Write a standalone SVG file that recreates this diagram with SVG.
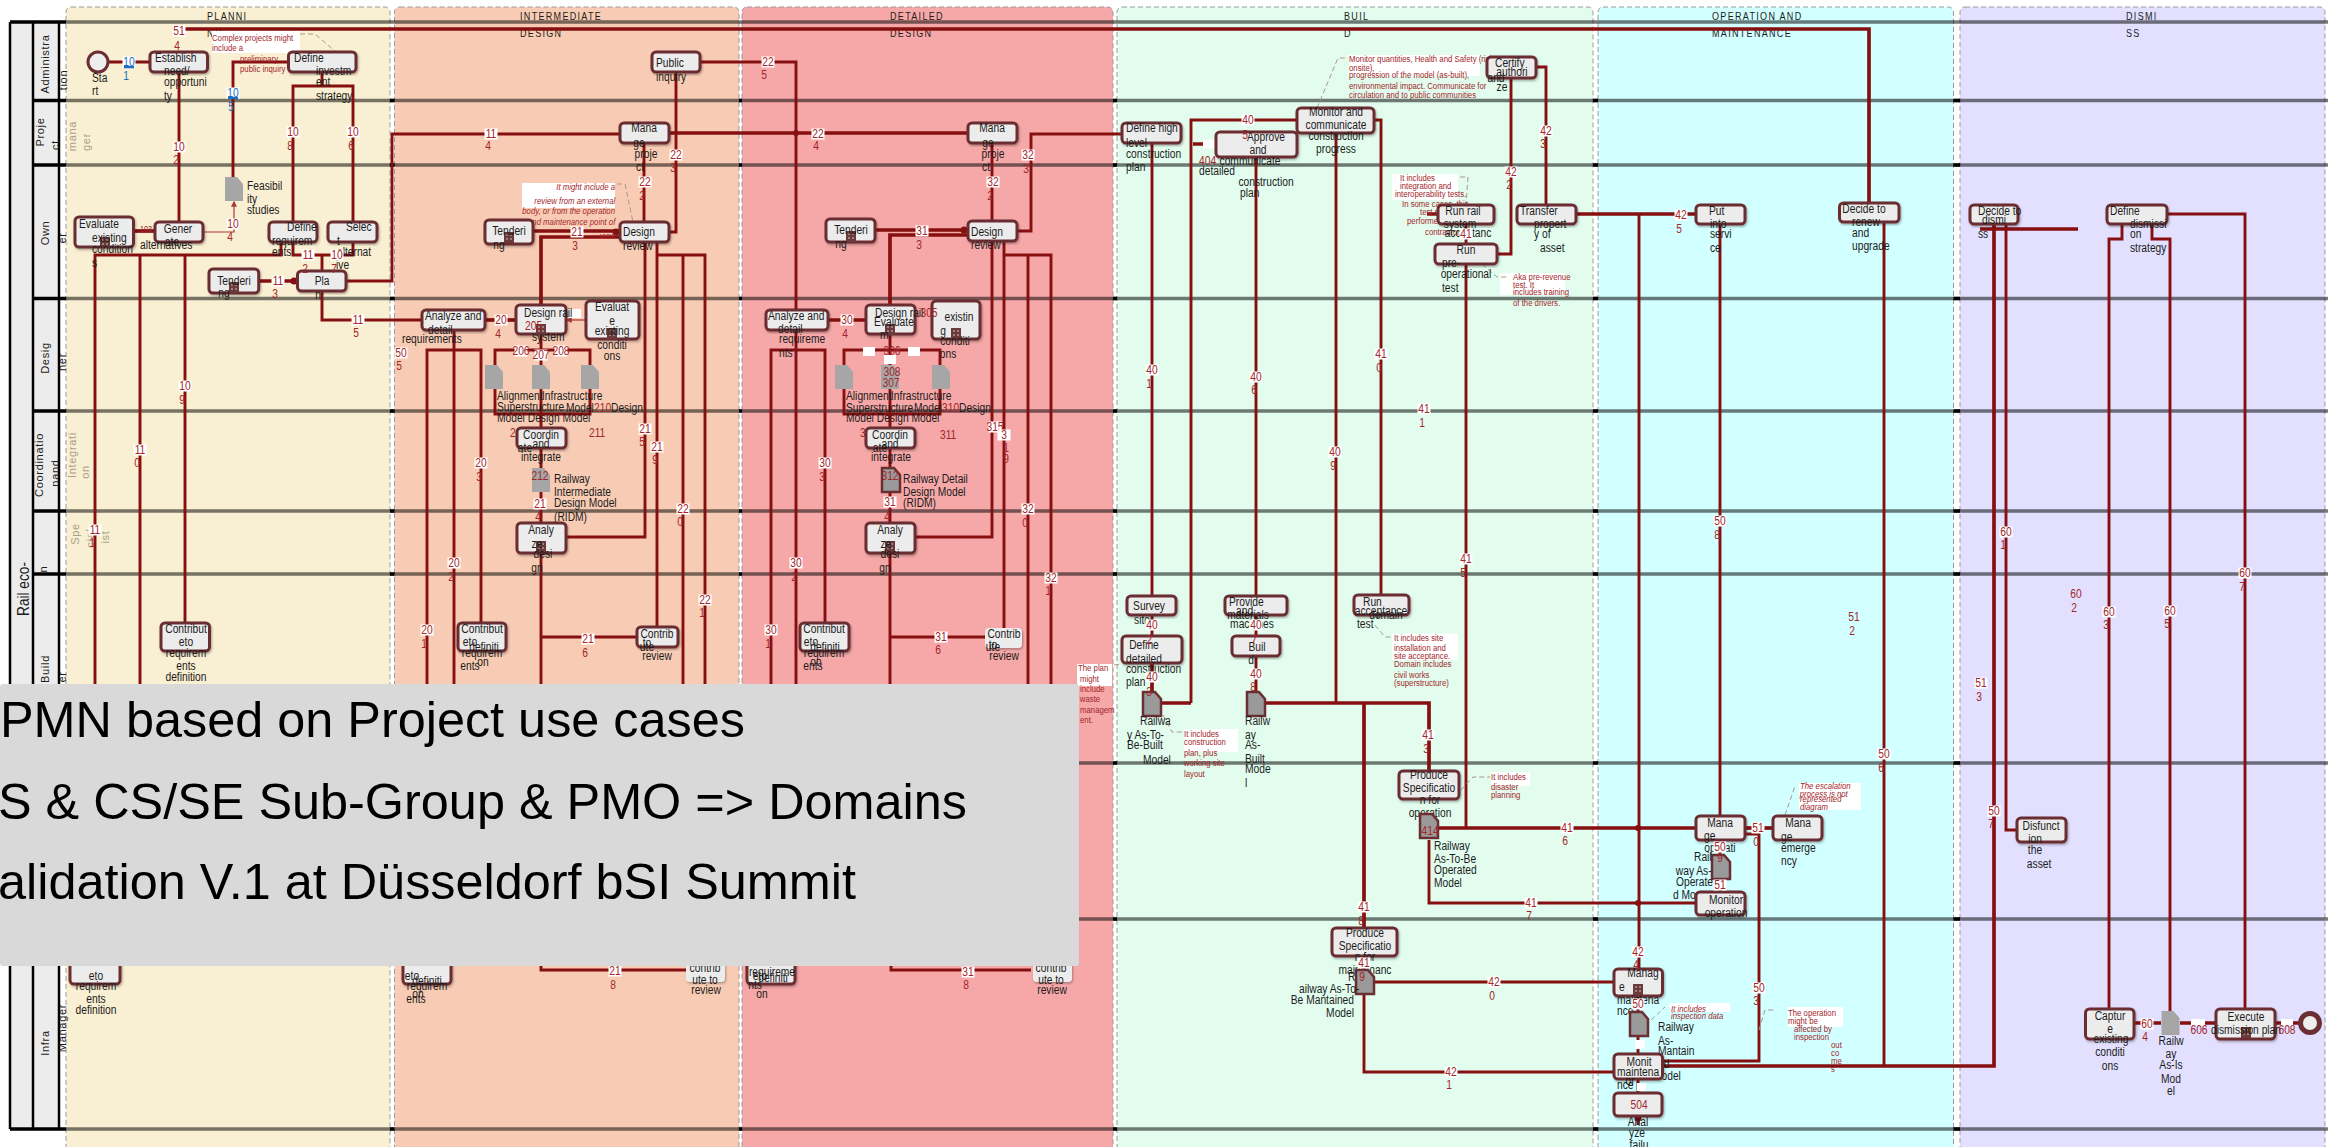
<svg xmlns="http://www.w3.org/2000/svg" width="2328" height="1147" viewBox="0 0 2328 1147">
<style>
text{font-family:"Liberation Sans",Arial,sans-serif;font-size:12.5px;fill:#1c1c1c;dominant-baseline:central}
text:not(.r):not(.big){transform-box:fill-box;transform-origin:0 50%;transform:scaleX(.82)}
text.c{text-anchor:middle;transform-origin:50% 50%!important}
text.e{text-anchor:end;transform-origin:100% 50%!important}
.l{fill:#a3262b}.bl{fill:#1a6fc4}
.nt{font-size:9.5px;fill:#a3262b}.i{font-style:italic}
.ti{font-size:11px;letter-spacing:1.6px}
.r{font-size:11px;letter-spacing:.7px;text-anchor:middle}
.g{fill:#a8a288}
.big{font-size:50.4px;fill:#000;text-anchor:end}
.z{stroke:#9a9a9a;stroke-width:1;stroke-dasharray:5 3}
.ln{stroke:#000;stroke-opacity:.52;stroke-width:3.5}
.bk{stroke:#000;stroke-width:3.5}
.n rect{fill:#ececec;stroke:#6b2f33;stroke-width:3;filter:url(#s)}
.q rect{fill:#ececec;stroke:none;filter:url(#s)}
#connectors path{fill:none;stroke:#860f10;stroke-width:2.9}
#connectors path.h{stroke-width:3.7}
#connectors path.t{stroke:#a8383a;stroke-width:1.2}
.d{fill:none;stroke:#a98;stroke-width:1;stroke-dasharray:5 3}
.w{fill:#fff}
.doc{fill:#a6a6a6}.dd{fill:#9a9a9a;stroke:#6b2f33;stroke-width:2.5}
</style>
<defs>
<filter id="s" x="-10%" y="-10%" width="125%" height="130%"><feDropShadow dx="1" dy="1.5" stdDeviation="1" flood-color="#000" flood-opacity=".3"/></filter>
<rect id="b" x="-6.5" y="-5.5" width="13" height="11" fill="#fff"/>
<path id="p" d="M0 0H12L18 7V24H0Z"/>
<g id="m"><rect x="-5" y="-5" width="10" height="11" fill="#6b3a3a"/><circle cx="-2" cy="-2" r=".8" fill="#ddd"/><circle cx="2" cy="-2" r=".8" fill="#ddd"/><circle cx="-2" cy="2" r=".8" fill="#ddd"/><circle cx="2" cy="2" r=".8" fill="#ddd"/></g>
<marker id="a" markerWidth="5" markerHeight="5" refX="4" refY="2.5" orient="auto"><path d="M0 0L5 2.5L0 5Z" fill="#a8383a"/></marker>
</defs>
<rect width="2328" height="1147" fill="#fff"/>
<g id="zones">
<rect class="z" x="66" y="7" width="324" height="1145" rx="5" fill="#f9efd2"/>
<rect class="z" x="394.5" y="7" width="344.5" height="1145" rx="5" fill="#f8ccb4"/>
<rect class="z" x="742" y="7" width="371" height="1145" rx="5" fill="#f6a8a8"/>
<rect class="z" x="1117" y="7" width="476" height="1145" rx="5" fill="#e2fdee"/>
<rect class="z" x="1598" y="7" width="355.500" height="1145" rx="5" fill="#d2ffff"/>
<rect class="z" x="1960" y="7" width="365" height="1145" rx="5" fill="#e2e0fe"/>
</g>
<g id="header">
<rect x="10" y="22" width="49" height="1107" fill="#ececec"/>
<path d="M10 22V1129M33 22V1129M59 22V1129" stroke="#000" stroke-width="2.5" fill="none"/>
<text class="r" style="font-size:17px;letter-spacing:0" textLength="54" lengthAdjust="spacingAndGlyphs" transform="rotate(-90 23 589)" x="23" y="589">Rail eco-</text>
<text class="r" transform="rotate(-90 45 64)" x="45" y="64">Administra</text><text class="r" transform="rotate(-90 63 80)" x="63" y="80">tion</text>
<text class="r" transform="rotate(-90 40 132)" x="40" y="132">Proje</text><text class="r" transform="rotate(-90 55 145)" x="55" y="145">ct</text>
<text class="r g" transform="rotate(-90 72 136)" x="72" y="136">mana</text><text class="r g" transform="rotate(-90 86 142)" x="86" y="142">ger</text>
<text class="r" transform="rotate(-90 45 233)" x="45" y="233">Own</text><text class="r" transform="rotate(-90 62 238)" x="62" y="238">er</text>
<text class="r" transform="rotate(-90 45 358)" x="45" y="358">Desig</text><text class="r" transform="rotate(-90 62 362)" x="62" y="362">ner</text>
<text class="r" transform="rotate(-90 39 465)" x="39" y="465">Coordinatio</text><text class="r" transform="rotate(-90 55 473)" x="55" y="473">nand</text>
<text class="r g" transform="rotate(-90 72 455)" x="72" y="455">Integrati</text><text class="r g" transform="rotate(-90 85 472)" x="85" y="472">on</text>
<text class="r g" transform="rotate(-90 75 534)" x="75" y="534">Spe</text><text class="r g" transform="rotate(-90 90 538)" x="90" y="538">cial</text><text class="r g" transform="rotate(-90 105 537)" x="105" y="537">ist</text>
<text class="r" transform="rotate(-90 43 569)" x="43" y="569">n</text>
<text class="r" transform="rotate(-90 45 669)" x="45" y="669">Build</text><text class="r" transform="rotate(-90 62 677)" x="62" y="677">er</text>
<text class="r" transform="rotate(-90 45 1043)" x="45" y="1043">Infra</text><text class="r" transform="rotate(-90 62 1028)" x="62" y="1028">Manager</text>
</g>
<g id="lanes">
<path class="ln" d="M66 22H2328M66 100.500H2328M66 165H2328M66 298.500H2328M66 411H2328M66 511H2328M66 574H2328M66 763H2328M66 919H2328M66 1129H2328"/>
<path class="bk" d="M10 22H66M33 100.500H66M33 165H66M33 298.500H66M33 411H66M33 511H66M33 574H66M33 763H66M33 919H66M10 1129H66"/>
<path class="bk" d="M390 100.500h4.500M739 100.500h3M1113 100.500h4M1593 100.500h5M1953.500 100.500h6.500M390 165h4.500M739 165h3M1113 165h4M1593 165h5M1953.500 165h6.500M390 298.500h4.500M739 298.500h3M1113 298.500h4M1593 298.500h5M1953.500 298.500h6.500M390 411h4.500M739 411h3M1113 411h4M1593 411h5M1953.500 411h6.500M390 511h4.500M739 511h3M1113 511h4M1593 511h5M1953.500 511h6.500M390 574h4.500M739 574h3M1113 574h4M1593 574h5M1953.500 574h6.500M1113 763h4M1593 763h5M1953.500 763h6.500M1113 919h4M1593 919h5M1953.500 919h6.500M390 1129h4.500M739 1129h3M1113 1129h4M1593 1129h5M1953.500 1129h6.500"/>
</g>
<g id="titles">
<text class="ti" x="207" y="16">PLANNI</text><text class="ti" x="207" y="33">NG</text>
<text class="ti" x="520" y="16">INTERMEDIATE</text><text class="ti" x="520" y="33">DESIGN</text>
<text class="ti" x="890" y="16">DETAILED</text><text class="ti" x="890" y="33">DESIGN</text>
<text class="ti" x="1344" y="16">BUIL</text><text class="ti" x="1344" y="33">D</text>
<text class="ti" x="1712" y="16">OPERATION AND</text><text class="ti" x="1712" y="33">MAINTENANCE</text>
<text class="ti" x="2126" y="16">DISMI</text><text class="ti" x="2126" y="33">SS</text>
</g>
<g id="connectors">
<path d="M108 62H150M179 52V222"/>
<path class="h" d="M184 29H1869V203"/>
<path d="M288 62H233V177M322 72V86M293 221V86H353V221M293 242V255H322V270M353 242V255H322"/>
<path class="h" d="M133 231H155"/>
<path class="t" marker-end="url(#a)" d="M203 232H234V202"/>
<path d="M95 700V255H281V242M140 255V700M185 255V623"/>
<path class="h" d="M258 281H297"/>
<path d="M346 281H392V134H619M322 291V320H422"/>
<path d="M700 62H796V310M676 72V232H669"/>
<path class="h" d="M669 133H967"/>
<path d="M644 143V222"/>
<path class="h" d="M533 231H620M541 305V237H620"/>
<path d="M657 242V627M657 255H705V700M683 255V700M645 242V537H566"/>
<path class="h" d="M485 320H516"/>
<path class="t" marker-end="url(#a)" d="M586 320H567"/>
<path d="M454 330V700M427 700V350H481V623"/>
<path d="M541 334V428M495 365V350H590V365M495 389V414H590V389M541 448V468M541 492V523"/>
<path d="M541 553V700M541 637H636M541 950V970H686"/>
<path d="M1017 231H1031V134H1121M992 143V221"/>
<path class="h" d="M875 230H968M890 305V235H968"/>
<path d="M1004 241V628M1004 255H1051V700M1028 255V700M992 241V537H915"/>
<path class="h" d="M828 320H866"/>
<path d="M825 623V350H771V700M796 330V700"/>
<path d="M890 334V428M844 365V350H940V365M844 389V414H940V389M890 448V468M890 492V523M890 553V700M890 637H985M891 950V970H1031"/>
<path d="M1152 143V596M1152 615V636"/>
<path class="h" d="M1152 663V692M1161 703H1191"/>
<path d="M1191 703V120H1297M1336 133V703M1374 120H1381V595"/>
<path d="M1256 157V596M1256 615V636M1256 656V692"/>
<path class="h" d="M1266 703H1429V770M1364 703V928"/>
<path d="M1536 67H1546V204M1511 78V254H1497M1466 224V244M1466 264V828"/>
<path class="h" d="M1438 828H1696"/>
<path d="M1429 840V903H1696"/>
<path d="M1364 956V970M1364 994V1072H1614"/>
<path d="M1374 982H1614"/>
<path class="h" d="M1576 214H1696"/>
<path d="M1639 214V969M1720 224V816M1720 840V855M1720 878V892"/>
<path d="M1884 222V1066"/>
<path d="M1638 996V1012M1638 1035V1054M1638 1079V1093M1638 1116V1125"/>
<path class="h" d="M1745 828H1773"/>
<path d="M1745 834H1759V1061H1662"/>
<path class="h" d="M1662 1066H1994V225"/>
<path d="M2006 225V830H2017"/>
<path class="h" d="M1980 229H2078"/>
<path d="M2122 224V239H2109V1009M2152 224V239H2170V1011M2167 214H2245V1009"/>
<path class="h" d="M2134 1023H2161M2180 1023H2216M2275 1023H2300"/>
<path class="h" d="M1193 144H1216M1427 214H1442"/>
<circle cx="1638" cy="828" r="3" fill="#860f10"/><circle cx="1638" cy="903" r="3" fill="#860f10"/><circle cx="796" cy="133" r="3" fill="#860f10"/><circle cx="294" cy="281" r="3.500" fill="#860f10"/><circle cx="616" cy="232" r="3.500" fill="#860f10"/><circle cx="964" cy="230" r="3.500" fill="#860f10"/><circle cx="1638" cy="1118" r="3.500" fill="#860f10"/>
</g>
<g id="notes">
<rect class="w" x="212" y="31" width="88" height="22"/><path class="d" d="M300 34H315L336 52"/>
<rect class="w" x="522" y="183" width="93" height="25"/><path class="d" d="M617 184H625L633 222"/>
<rect class="w" x="1349" y="55" width="131" height="21"/><path class="d" d="M1317 108L1338 58H1348"/>
<rect class="w" x="1392" y="174" width="66" height="26"/><path class="d" d="M1460 177H1468L1466 205"/>
<rect class="w" x="1500" y="273" width="65" height="22"/><path class="d" d="M1482 264L1497 277H1507"/>
<rect class="w" x="1184" y="729" width="54" height="23"/><path class="d" d="M1163 715L1172 732H1182"/>
<rect class="w" x="1077" y="664" width="35" height="22"/><path class="d" d="M1114 665L1122 664"/>
<rect class="w" x="1392" y="633.500" width="66" height="26.500"/><path class="d" d="M1375 625L1385 637H1392"/>
<rect class="w" x="1491" y="772" width="39" height="14"/><path class="d" d="M1461 790L1473 777H1490"/>
<rect class="w" x="1670" y="1003" width="60" height="9"/><path class="d" d="M1651 1020L1665 1007"/>
<rect class="w" x="1799" y="783" width="62" height="27"/><path class="d" d="M1785 815L1795 786"/>
<rect class="w" x="1788" y="1007" width="55" height="20"/><path class="d" d="M1759 1030L1765 1010H1775"/>
<rect class="w" x="567" y="309" width="14" height="9"/>
<rect class="w" x="1203" y="140" width="13" height="8"/>
<rect class="w" x="1635" y="1040" width="10" height="9"/><rect class="w" x="1637" y="1083" width="9" height="8"/>
<rect class="w" x="2191" y="1019" width="14" height="7"/><rect class="w" x="2281" y="1019" width="12" height="7"/>
<text class="nt" x="212" y="38">Complex projects might</text><text class="nt" x="212" y="48">include a</text><text class="nt" x="240" y="59">preliminary</text><text class="nt" x="240" y="69">public inquiry</text>
<text class="nt i e" x="615" y="187">It might include a</text><text class="nt i e" x="615" y="201">review from an  external</text><text class="nt i e" x="615" y="211">body, or from the operation</text><text class="nt i e" x="615" y="222">and maintenance point of</text><text class="nt i e" x="615" y="236">view</text>
<text class="nt" x="1349" y="59">Monitor quantities, Health and Safety (risk</text><text class="nt" x="1349" y="68">onsite),</text><text class="nt" x="1349" y="75">progression of the model (as-built),</text><text class="nt" x="1349" y="86">environmental impact.  Communicate for</text><text class="nt" x="1349" y="95">circulation and to public communities</text>
<text class="nt" x="1400" y="178">It includes</text><text class="nt" x="1400" y="186">integration and</text><text class="nt" x="1395" y="194">interoperability tests.</text><text class="nt" x="1402" y="204">In some cases, this</text><text class="nt" x="1420" y="212">test might be</text><text class="nt" x="1407" y="221">performed by the</text><text class="nt" x="1425" y="232">contractor</text>
<text class="nt" x="1513" y="277">Aka pre-revenue</text><text class="nt" x="1513" y="285">test. It</text><text class="nt" x="1513" y="292">includes training</text><text class="nt" x="1513" y="303">of the  drivers.</text>
<text class="nt" x="1184" y="734">It includes</text><text class="nt" x="1184" y="742">construction</text><text class="nt" x="1184" y="753">plan, plus</text><text class="nt" x="1184" y="763">working site</text><text class="nt" x="1184" y="774">layout</text>
<text class="nt" x="1078" y="668">The    plan</text><text class="nt" x="1080" y="679">might</text><text class="nt" x="1080" y="689">include</text><text class="nt" x="1080" y="699">waste</text><text class="nt" x="1080" y="710">managem</text><text class="nt" x="1080" y="720">ent.</text>
<text class="nt" x="1394" y="638">It includes site</text><text class="nt" x="1394" y="648">installation  and</text><text class="nt" x="1394" y="656">site acceptance.</text><text class="nt" x="1394" y="664">Domain includes</text><text class="nt" x="1394" y="675">civil works</text><text class="nt" x="1394" y="683">(superstructure)</text>
<text class="nt" x="1491" y="777">It includes</text><text class="nt" x="1491" y="787">disaster</text><text class="nt" x="1491" y="795">planning</text>
<text class="nt i" x="1671" y="1009">It includes</text><text class="nt i" x="1671" y="1016">inspection data</text>
<text class="nt i" x="1800" y="786">The escalation</text><text class="nt i" x="1800" y="794">process is not</text><text class="nt i" x="1800" y="799">represented</text><text class="nt i" x="1800" y="807">diagram</text>
<text class="nt" x="1788" y="1013">The operation</text><text class="nt" x="1788" y="1021">might be</text><text class="nt" x="1794" y="1029">affected by</text><text class="nt" x="1794" y="1037">inspection</text><text class="nt" x="1831" y="1045">out</text><text class="nt" x="1831" y="1053">co</text><text class="nt" x="1831" y="1061">me</text><text class="nt" x="1831" y="1069">s</text>
</g>
<g id="n-start"><ellipse cx="98" cy="62" rx="10" ry="10" fill="#eee" stroke="#6b2f33" stroke-width="3"/><text x="92" y="78">Sta</text><text x="92" y="91">rt</text></g>
<g id="n-establish" class="n"><rect x="150" y="52" width="57.500" height="20" rx="4"/><text x="155" y="58">Establish</text><text x="164" y="71">need/</text><text x="164" y="82">opportuni</text><text x="164" y="96">ty</text></g>
<g id="n-strategy" class="n"><rect x="288.500" y="52" width="67.500" height="20" rx="4"/><text x="294" y="58">Define</text><text x="316" y="71">investm</text><text x="316" y="82">ent</text><text x="316" y="96">strategy</text></g>
<g id="d-feasibility"><use href="#p" x="225" y="177" class="doc"/><text x="247" y="186">Feasibil</text><text x="247" y="199">ity</text><text x="247" y="210">studies</text></g>
<g id="n-evaluate" class="n"><rect x="75" y="217" width="58.500" height="30" rx="4"/><use href="#m" x="105" y="242"/><text x="79" y="224">Evaluate</text><text x="92" y="238">existing</text><text x="92" y="249">condition</text><text x="92" y="263">s</text></g>
<g id="n-generate" class="n"><rect x="155" y="222" width="48" height="20" rx="4"/><text class="c" x="178" y="229">Gener</text><text class="c" x="172" y="242">ate</text><text x="140" y="245">alternatives</text></g>
<g id="n-definereq" class="n"><rect x="269" y="222" width="48" height="20" rx="4"/><text x="287" y="227">Define</text><text x="272" y="241">requirem</text><text x="272" y="252">ents</text></g>
<g id="n-select" class="n"><rect x="328" y="222" width="49" height="20" rx="4"/><text x="346" y="227">Selec</text><text x="337" y="241">t</text><text x="337" y="252">alternat</text><text x="336" y="265">ive</text></g>
<g id="n-plan" class="n"><rect x="297.500" y="271" width="48.500" height="20" rx="4"/><text class="c" x="322" y="281">Pla</text><text class="c" x="318" y="295">n</text></g>
<g id="n-tender1" class="n"><rect x="209" y="269" width="49.700" height="24" rx="4"/><use href="#m" x="234" y="287"/><text class="c" x="234" y="281">Tenderi</text><text class="c" x="224" y="293">ng</text></g>
<g id="n-contribute1" class="n"><rect x="161" y="623" width="48.500" height="28" rx="4"/><text class="c" x="186" y="629">Contribut</text><text class="c" x="186" y="642">eto</text><text class="c" x="186" y="653">requirem</text><text class="c" x="186" y="666">ents</text><text class="c" x="186" y="677">definition</text></g>
<g id="n-contribute1b" class="n"><rect x="70" y="950" width="50" height="34" rx="4"/><text class="c" x="96" y="976">eto</text><text class="c" x="96" y="986">requirem</text><text class="c" x="96" y="999">ents</text><text class="c" x="96" y="1010">definition</text></g>
<g id="n-public" class="n"><rect x="652" y="52" width="48" height="20" rx="4"/><text x="656" y="63">Public</text><text x="656" y="77">inquiry</text></g>
<g id="n-manage1" class="n"><rect x="620" y="123" width="49" height="20" rx="4"/><text class="c" x="644" y="128">Mana</text><text class="c" x="639" y="143">ge</text><text class="c" x="646" y="154">proje</text><text class="c" x="640" y="167">ct</text></g>
<g id="n-review1" class="n"><rect x="620" y="222" width="49" height="20" rx="4"/><text x="623" y="232">Design</text><text x="623" y="246">review</text></g>
<g id="n-tender2" class="n"><rect x="485" y="220" width="48" height="24" rx="4"/><use href="#m" x="509" y="237"/><text class="c" x="509" y="231">Tenderi</text><text class="c" x="499" y="245">ng</text></g>
<g id="n-analyze1" class="n"><rect x="422" y="310" width="63" height="20" rx="4"/><text x="425" y="316">Analyze and</text><text x="428" y="330">detail</text><text x="402" y="339">requirements</text></g>
<g id="n-rail1" class="n"><rect x="516" y="305" width="50" height="29" rx="4"/><use href="#m" x="541" y="329"/><text x="524" y="313">Design rail</text><text class="l" x="525" y="326">205</text><text x="532" y="337">system</text></g>
<g id="n-eval1" class="n"><rect x="586" y="301" width="53" height="38" rx="4"/><use href="#m" x="612" y="333"/><text class="c" x="612" y="307">Evaluat</text><text class="c" x="612" y="321">e</text><text class="c" x="612" y="331">existing</text><text class="c" x="612" y="345">conditi</text><text class="c" x="612" y="356">ons</text></g>
<g id="d-align1"><use href="#p" x="485" y="365" class="doc"/><use href="#p" x="532" y="365" class="doc"/><use href="#p" x="581" y="365" class="doc"/><text x="497" y="396">Alignment</text><text x="542" y="396">Infrastructure</text><text x="497" y="407">Superstructure</text><text x="566" y="408">Model</text><text class="l" x="594" y="408">210</text><text x="611" y="408">Design</text><text x="497" y="418">Model Design Model</text><text class="l" x="510" y="433">209</text><text class="l" x="589" y="433">211</text></g>
<g id="n-coord1" class="n"><rect x="517" y="428" width="49" height="20" rx="4"/><text class="c" x="541" y="435">Coordin</text><text class="c" x="541" y="444">and</text><text class="c" x="525" y="448">ate</text><text class="c" x="541" y="457">integrate</text></g>
<g id="d-ridm1"><use href="#p" x="532" y="468" class="doc"/><text class="l c" x="540" y="476">212</text><text x="554" y="479">Railway</text><text x="554" y="492">Intermediate</text><text x="554" y="503">Design Model</text><text x="554" y="517">(RIDM)</text></g>
<g id="n-analyzed1" class="n"><rect x="517" y="523" width="49" height="30" rx="4"/><use href="#m" x="541" y="546"/><text class="c" x="541" y="530">Analy</text><text class="c" x="537" y="544">ze</text><text class="c" x="543" y="554">desi</text><text class="c" x="537" y="568">gn</text></g>
<g id="n-contribute2" class="n"><rect x="458" y="623" width="48" height="28" rx="4"/><text class="c" x="482" y="629">Contribut</text><text class="c" x="470" y="642">eto</text><text class="c" x="484" y="647">definiti</text><text class="c" x="482" y="653">requirem</text><text class="c" x="483" y="662">on</text><text class="c" x="470" y="666">ents</text></g>
<g id="n-contribr1" class="n"><rect x="637" y="627" width="41" height="20" rx="4"/><text class="c" x="657" y="634">Contrib</text><text class="c" x="647" y="643">to</text><text class="c" x="647" y="647">ute</text><text class="c" x="657" y="656">review</text></g>
<g id="n-contribute2b" class="n"><rect x="403" y="950" width="48" height="34" rx="4"/><text class="c" x="412" y="976">eto</text><text class="c" x="427" y="981">definiti</text><text class="c" x="427" y="986">requirem</text><text class="c" x="418" y="994">on</text><text class="c" x="416" y="999">ents</text></g>
<g id="n-contribr1b" class="q"><rect x="686" y="950" width="39" height="32" rx="4"/><text class="c" x="705" y="968">contrib</text><text class="c" x="705" y="980">ute to</text><text class="c" x="706" y="990">review</text></g>
<g id="n-manage2" class="n"><rect x="968" y="123" width="49" height="20" rx="4"/><text class="c" x="992" y="128">Mana</text><text class="c" x="988" y="143">ge</text><text class="c" x="993" y="154">proje</text><text class="c" x="986" y="167">ct</text></g>
<g id="n-review2" class="n"><rect x="968" y="221" width="49" height="20" rx="4"/><text x="971" y="232">Design</text><text x="971" y="245">review</text></g>
<g id="n-tender3" class="n"><rect x="826" y="219" width="49" height="23" rx="4"/><use href="#m" x="851" y="236"/><text class="c" x="851" y="230">Tenderi</text><text class="c" x="841" y="244">ng</text></g>
<g id="n-analyze2" class="n"><rect x="766" y="310" width="62" height="20" rx="4"/><text x="768" y="316">Analyze and</text><text x="778" y="329">detail</text><text x="779" y="339">requireme</text><text x="779" y="353">nts</text></g>
<g id="n-rail2" class="n"><rect x="866" y="305" width="49" height="29" rx="4"/><use href="#m" x="890" y="329"/><text x="875" y="313">Design rail</text><text x="874" y="322">Evaluate</text><text x="880" y="335">m</text></g>
<g id="n-eval2" class="n"><rect x="932" y="301" width="48" height="38" rx="4"/><use href="#m" x="956" y="333"/><text class="c" x="959" y="317">existin</text><text class="c" x="943" y="331">g</text><text class="c" x="955" y="341">conditi</text><text class="c" x="948" y="354">ons</text></g>
<g id="d-align2"><rect class="w" x="863" y="347" width="12" height="9"/><rect class="w" x="908" y="347" width="12" height="9"/><rect class="w" x="884" y="355" width="12" height="9"/><use href="#p" x="835" y="365" class="doc"/><use href="#p" x="881" y="365" class="doc"/><use href="#p" x="932" y="365" class="doc"/><text class="l c" x="892" y="351">306</text><text class="l c" x="892" y="372">308</text><text class="l c" x="891" y="383">307</text><text x="846" y="396">Alignment</text><text x="891" y="396">Infrastructure</text><text x="846" y="408">Superstructure</text><text x="914" y="408">Model</text><text class="l" x="942" y="408">310</text><text x="959" y="408">Design</text><text x="846" y="418">Model Design Model</text><text class="l" x="860" y="433">309</text><text class="l" x="940" y="435">311</text></g>
<g id="n-coord2" class="n"><rect x="866" y="428" width="49" height="20" rx="4"/><text class="c" x="890" y="435">Coordin</text><text class="c" x="890" y="444">and</text><text class="c" x="880" y="448">ate</text><text class="c" x="891" y="457">integrate</text></g>
<g id="d-ridm2"><use href="#p" x="882" y="468" class="dd"/><text class="l c" x="890" y="476">312</text><text x="903" y="479">Railway Detail</text><text x="903" y="492">Design Model</text><text x="903" y="503">(RIDM)</text></g>
<g id="n-analyzed2" class="n"><rect x="866" y="523" width="49" height="30" rx="4"/><use href="#m" x="890" y="546"/><text class="c" x="890" y="530">Analy</text><text class="c" x="886" y="544">ze</text><text class="c" x="890" y="554">desi</text><text class="c" x="885" y="568">gn</text></g>
<g id="n-contribute3" class="n"><rect x="800" y="623" width="49" height="28" rx="4"/><text class="c" x="824" y="629">Contribut</text><text class="c" x="811" y="642">eto</text><text class="c" x="825" y="647">definiti</text><text class="c" x="824" y="653">requirem</text><text class="c" x="816" y="662">on</text><text class="c" x="813" y="666">ents</text></g>
<g id="n-contribr2" class="q"><rect x="985" y="628" width="37" height="20" rx="4"/><text class="c" x="1004" y="634">Contrib</text><text class="c" x="993" y="645">to</text><text class="c" x="993" y="647">ute</text><text class="c" x="1004" y="656">review</text></g>
<g id="n-contribute3b" class="n"><rect x="747" y="950" width="48" height="34" rx="4"/><text class="c" x="772" y="972">requireme</text><text class="c" x="760" y="976">eto</text><text class="c" x="773" y="978">definiti</text><text class="c" x="755" y="985">nts</text><text class="c" x="762" y="994">on</text></g>
<g id="n-contribr2b" class="q"><rect x="1033" y="950" width="39" height="32" rx="4"/><text class="c" x="1051" y="968">contrib</text><text class="c" x="1051" y="980">ute to</text><text class="c" x="1052" y="990">review</text></g>
<g id="n-highlevel" class="n"><rect x="1122" y="123" width="59" height="20" rx="4"/><text x="1126" y="128">Define high</text><text x="1126" y="143">level</text><text x="1126" y="154">construction</text><text x="1126" y="167">plan</text></g>
<g id="n-approve" class="n"><rect x="1216" y="132" width="81" height="25" rx="4"/><text class="c" x="1266" y="137">Approve</text><text class="c" x="1258" y="150">and</text><text class="c" x="1250" y="161">communicate</text><text class="l" x="1199" y="161">404</text><text x="1199" y="171">detailed</text><text class="c" x="1266" y="182">construction</text><text x="1240" y="193">plan</text></g>
<g id="n-monitorc" class="n"><rect x="1297" y="108" width="77" height="25" rx="4"/><text class="c" x="1336" y="112">Monitor and</text><text class="c" x="1336" y="125">communicate</text><text class="c" x="1336" y="136">construction</text><text class="c" x="1336" y="149">progress</text></g>
<g id="n-certify" class="n"><rect x="1487" y="57" width="49" height="21" rx="4"/><text x="1495" y="63">Certify</text><text class="c" x="1512" y="72">authori</text><text class="c" x="1496" y="78">and</text><text class="c" x="1502" y="87">ze</text></g>
<g id="n-runrail" class="n"><rect x="1438" y="205" width="56" height="19" rx="4"/><text class="c" x="1463" y="211">Run rail</text><text class="c" x="1460" y="224">system</text><text class="c" x="1468" y="233">acceptanc</text></g>
<g id="n-runpre" class="n"><rect x="1435" y="244" width="62" height="20" rx="4"/><text class="c" x="1466" y="250">Run</text><text x="1442" y="263">pre-</text><text class="c" x="1466" y="274">operational</text><text x="1442" y="288">test</text></g>
<g id="n-transfer" class="n"><rect x="1517" y="205" width="59" height="19" rx="4"/><text x="1520" y="211">Transfer</text><text x="1534" y="224">propert</text><text x="1534" y="234">y  of</text><text x="1540" y="248">asset</text></g>
<g id="n-put" class="n"><rect x="1696" y="205" width="49" height="19" rx="4"/><text x="1709" y="211">Put</text><text x="1710" y="224">into</text><text x="1710" y="234">servi</text><text x="1710" y="248">ce</text></g>
<g id="n-renew" class="n"><rect x="1839.500" y="203" width="59.500" height="19" rx="4"/><text class="c" x="1864" y="209">Decide to</text><text x="1852" y="222">renew</text><text x="1852" y="233">and</text><text x="1852" y="246">upgrade</text></g>
<g id="n-dismiss" class="n"><rect x="1970" y="205" width="48" height="19" rx="4"/><text x="1978" y="211">Decide to</text><text class="c" x="1994" y="220">dismi</text><text class="c" x="1983" y="234">ss</text></g>
<g id="n-dstrategy" class="n"><rect x="2107" y="205" width="60" height="19" rx="4"/><text x="2110" y="211">Define</text><text x="2130" y="224">dismissi</text><text x="2130" y="234">on</text><text x="2130" y="248">strategy</text></g>
<g id="n-survey" class="n"><rect x="1127" y="596" width="49" height="19" rx="4"/><text class="c" x="1149" y="606">Survey</text><text class="c" x="1142" y="620">site</text></g>
<g id="n-detailedplan" class="n"><rect x="1122" y="636" width="60" height="27" rx="4"/><text class="c" x="1144" y="645">Define</text><text x="1126" y="659">detailed</text><text x="1126" y="669">construction</text><text x="1126" y="682">plan</text></g>
<g id="d-tobe"><use href="#p" x="1143" y="692" class="dd"/><text x="1140" y="721">Railwa</text><text x="1127" y="735">y  As-To-</text><text x="1127" y="745">Be-Built</text><text x="1143" y="760">Model</text></g>
<g id="n-provide" class="n"><rect x="1225" y="596" width="62" height="19" rx="4"/><text x="1229" y="602">Provide</text><text x="1236" y="611">and</text><text class="c" x="1248" y="615">materials</text><text class="c" x="1252" y="624">machines</text></g>
<g id="n-build" class="n"><rect x="1232" y="636" width="48" height="20" rx="4"/><text class="c" x="1257" y="647">Buil</text><text class="c" x="1251" y="660">d</text></g>
<g id="d-asbuilt"><use href="#p" x="1247" y="692" class="dd"/><text x="1245" y="721">Railw</text><text x="1245" y="735">ay</text><text x="1245" y="745">As-</text><text x="1245" y="759">Built</text><text x="1245" y="769">Mode</text><text x="1245" y="783">l</text></g>
<g id="n-runacc" class="n"><rect x="1354" y="595" width="55" height="20" rx="4"/><text x="1363" y="602">Run</text><text class="c" x="1381" y="611">acceptance</text><text class="c" x="1386" y="615">domain</text><text x="1357" y="624">test</text></g>
<g id="n-specop" class="n"><rect x="1399" y="771" width="60" height="28" rx="4"/><text class="c" x="1429" y="775">Produce</text><text class="c" x="1429" y="788">Specificatio</text><text class="c" x="1430" y="800">n for</text><text class="c" x="1430" y="813">operation</text></g>
<g id="d-operated"><use href="#p" x="1420" y="814" class="dd"/><text class="l c" x="1430" y="831">414</text><text x="1434" y="846">Railway</text><text x="1434" y="859">As-To-Be</text><text x="1434" y="870">Operated</text><text x="1434" y="883">Model</text></g>
<g id="n-specm" class="n"><rect x="1332" y="928" width="65" height="28" rx="4"/><text class="c" x="1365" y="933">Produce</text><text class="c" x="1365" y="946">Specificatio</text><text class="c" x="1365" y="957">n for</text><text class="c" x="1365" y="970">maintenanc</text></g>
<g id="d-tomaintain"><use href="#p" x="1356" y="970" class="dd"/><text class="l c" x="1362" y="977">9</text><text x="1348" y="977">R</text><text x="1299" y="989">ailway  As-To-</text><text class="e" x="1354" y="1000">Be Mantained</text><text class="e" x="1354" y="1013">Model</text></g>
<g id="n-maint" class="n"><rect x="1614" y="969" width="48.500" height="27" rx="4"/><use href="#m" x="1638" y="989"/><text class="c" x="1643" y="973">Manag</text><text x="1619" y="987">e</text><text class="c" x="1638" y="1000">maintena</text><text x="1617" y="1011">nce</text></g>
<g id="d-asmaint"><use href="#p" x="1630" y="1012" class="dd"/><text x="1658" y="1027">Railway</text><text x="1658" y="1041">As-</text><text x="1658" y="1051">Mantain</text><text x="1658" y="1064">ed</text><text x="1653" y="1076">Model</text></g>
<g id="n-monmaint" class="n"><rect x="1614" y="1054" width="48.500" height="25" rx="4"/><text class="c" x="1639" y="1062">Monit</text><text class="c" x="1638" y="1072">maintena</text><text class="c" x="1630" y="1081">or</text><text x="1617" y="1085">nce</text></g>
<g id="n-504" class="n"><rect x="1614" y="1093" width="48" height="23" rx="4"/><text class="l c" x="1639" y="1105">504</text><text class="c" x="1638" y="1122">Anal</text><text class="c" x="1637" y="1133">yze</text><text class="c" x="1639" y="1145">failu</text></g>
<g id="n-manop" class="n"><rect x="1696" y="816" width="49" height="24" rx="4"/><text class="c" x="1720" y="823">Mana</text><text x="1704" y="836">ge</text><text class="c" x="1720" y="848">operati</text></g>
<g id="d-asop"><use href="#p" x="1712" y="855" class="dd"/><text class="l c" x="1720" y="858">9</text><text x="1694" y="857">Rail</text><text x="1676" y="871">way  As-</text><text x="1676" y="882">Operate</text><text x="1673" y="895">d  Mo</text></g>
<g id="n-monop" class="n"><rect x="1696" y="892" width="49" height="23" rx="4"/><text class="c" x="1726" y="900">Monitor</text><text class="c" x="1726" y="913">operation</text></g>
<g id="n-emerg" class="n"><rect x="1773" y="816" width="49" height="24" rx="4"/><text class="c" x="1798" y="823">Mana</text><text x="1781" y="837">ge</text><text x="1781" y="848">emerge</text><text x="1781" y="861">ncy</text></g>
<g id="n-disfunction" class="n"><rect x="2017" y="818" width="49" height="24" rx="4"/><text class="c" x="2041" y="826">Disfunct</text><text class="c" x="2035" y="839">ion</text><text class="c" x="2035" y="850">the</text><text class="c" x="2039" y="864">asset</text></g>
<g id="n-capture" class="n"><rect x="2085.500" y="1009" width="48.500" height="30" rx="4"/><text class="c" x="2110" y="1016">Captur</text><text class="c" x="2110" y="1029">e</text><text class="c" x="2111" y="1039">existing</text><text class="c" x="2110" y="1052">conditi</text><text class="c" x="2110" y="1066">ons</text></g>
<g id="d-asis"><use href="#p" x="2161.500" y="1011" class="doc"/><text class="c" x="2171" y="1041">Railw</text><text class="c" x="2171" y="1054">ay</text><text class="c" x="2171" y="1065">As-Is</text><text class="c" x="2171" y="1079">Mod</text><text class="c" x="2171" y="1091">el</text></g>
<g id="n-execute" class="n"><rect x="2216" y="1009" width="59" height="30" rx="4"/><use href="#m" x="2246" y="1032"/><text class="c" x="2246" y="1017">Execute</text><text class="c" x="2246" y="1030">dismission plan</text></g>
<g id="n-end"><ellipse cx="2310" cy="1023" rx="9.500" ry="9.500" fill="#eee" stroke="#6b2f33" stroke-width="5"/></g>
<g id="labels" text-anchor="middle">
<use href="#b" x="129" y="62"/><text class="bl c" x="129" y="62">10</text><text class="bl c" x="126" y="76">1</text><path d="M124 67h10" stroke="#1a6fc4" stroke-width="2.500"/>
<use href="#b" x="233" y="93"/><text class="bl c" x="233" y="93">10</text><path d="M228 98h10" stroke="#1a6fc4" stroke-width="2.500"/><text class="bl c" x="231" y="107">5</text>
<use href="#b" x="179" y="31"/><text class="l c" x="179" y="31">51</text><text class="l c" x="177" y="46">4</text>
<use href="#b" x="179" y="147"/><text class="l c" x="179" y="147">10</text><text class="l c" x="176" y="160">2</text>
<use href="#b" x="293" y="132"/><text class="l c" x="293" y="132">10</text><text class="l c" x="290" y="146">8</text>
<use href="#b" x="353" y="132"/><text class="l c" x="353" y="132">10</text><text class="l c" x="351" y="146">6</text>
<use href="#b" x="233" y="224"/><text class="l c" x="233" y="224">10</text><text class="l c" x="230" y="237">4</text>
<text class="l c" style="font-size:9px" x="146" y="229">103</text>
<use href="#b" x="308" y="255"/><text class="l c" x="308" y="255">11</text><text class="l c" x="305" y="269">2</text>
<use href="#b" x="337" y="255"/><text class="l c" x="337" y="255">10</text><text class="l c" x="334" y="269">7</text>
<use href="#b" x="278" y="281"/><text class="l c" x="278" y="281">11</text><text class="l c" x="275" y="294">3</text>
<use href="#b" x="491" y="134"/><text class="l c" x="491" y="134">11</text><text class="l c" x="488" y="146">4</text>
<use href="#b" x="358" y="320"/><text class="l c" x="358" y="320">11</text><text class="l c" x="356" y="333">5</text>
<use href="#b" x="185" y="386"/><text class="l c" x="185" y="386">10</text><text class="l c" x="182" y="400">9</text>
<use href="#b" x="140" y="450"/><text class="l c" x="140" y="450">11</text><text class="l c" x="137" y="463">0</text>
<use href="#b" x="95" y="530"/><text class="l c" x="95" y="530">11</text><text class="l c" x="92" y="543">1</text>
<use href="#b" x="768" y="62"/><text class="l c" x="768" y="62">22</text><text class="l c" x="764" y="75">5</text>
<use href="#b" x="676" y="155"/><text class="l c" x="676" y="155">22</text><text class="l c" x="673" y="168">3</text>
<use href="#b" x="818" y="134"/><text class="l c" x="818" y="134">22</text><text class="l c" x="816" y="146">4</text>
<use href="#b" x="645" y="182"/><text class="l c" x="645" y="182">22</text><text class="l c" x="642" y="196">2</text>
<use href="#b" x="577" y="232"/><text class="l c" x="577" y="232">21</text><text class="l c" x="575" y="246">3</text>
<use href="#b" x="645" y="429"/><text class="l c" x="645" y="429">21</text><text class="l c" x="642" y="442">5</text>
<use href="#b" x="657" y="447"/><text class="l c" x="657" y="447">21</text><text class="l c" x="655" y="460">9</text>
<use href="#b" x="683" y="509"/><text class="l c" x="683" y="509">22</text><text class="l c" x="680" y="522">0</text>
<use href="#b" x="705" y="600"/><text class="l c" x="705" y="600">22</text><text class="l c" x="702" y="613">1</text>
<use href="#b" x="501" y="320"/><text class="l c" x="501" y="320">20</text><text class="l c" x="498" y="334">4</text>
<use href="#b" x="401" y="353"/><text class="l c" x="401" y="353">50</text><text class="l c" x="399" y="366">5</text>
<use href="#b" x="427" y="630"/><text class="l c" x="427" y="630">20</text><text class="l c" x="424" y="644">1</text>
<use href="#b" x="454" y="563"/><text class="l c" x="454" y="563">20</text><text class="l c" x="451" y="577">2</text>
<use href="#b" x="481" y="463"/><text class="l c" x="481" y="463">20</text><text class="l c" x="479" y="477">3</text>
<use href="#b" x="521" y="351"/><text class="l c" x="521" y="351">206</text><use href="#b" x="541" y="355"/><text class="l c" x="541" y="355">207</text><use href="#b" x="561" y="351"/><text class="l c" x="561" y="351">208</text>
<use href="#b" x="540" y="504"/><text class="l c" x="540" y="504">21</text><text class="l c" x="538" y="517">4</text>
<use href="#b" x="588" y="639"/><text class="l c" x="588" y="639">21</text><text class="l c" x="585" y="653">6</text>
<use href="#b" x="615" y="971"/><text class="l c" x="615" y="971">21</text><text class="l c" x="613" y="985">8</text>
<use href="#b" x="993" y="182"/><text class="l c" x="993" y="182">32</text><text class="l c" x="990" y="196">2</text>
<use href="#b" x="1028" y="155"/><text class="l c" x="1028" y="155">32</text><text class="l c" x="1026" y="169">3</text>
<use href="#b" x="922" y="231"/><text class="l c" x="922" y="231">31</text><text class="l c" x="919" y="245">3</text>
<use href="#b" x="995" y="427"/><text class="l c" x="995" y="427">315</text><use href="#b" x="1004" y="435"/><text class="l c" x="1004" y="435">3</text><text class="l c" x="1006" y="448">1</text><text class="l c" x="1006" y="459">9</text>
<use href="#b" x="1028" y="509"/><text class="l c" x="1028" y="509">32</text><text class="l c" x="1025" y="523">0</text>
<use href="#b" x="1051" y="578"/><text class="l c" x="1051" y="578">32</text><text class="l c" x="1048" y="591">1</text>
<use href="#b" x="847" y="320"/><text class="l c" x="847" y="320">30</text><text class="l c" x="845" y="334">4</text>
<text class="l c" x="929" y="313">305</text>
<use href="#b" x="890" y="502"/><text class="l c" x="890" y="502">31</text><text class="l c" x="887" y="517">4</text>
<use href="#b" x="941" y="637"/><text class="l c" x="941" y="637">31</text><text class="l c" x="938" y="650">6</text>
<use href="#b" x="968" y="972"/><text class="l c" x="968" y="972">31</text><text class="l c" x="966" y="985">8</text>
<use href="#b" x="825" y="463"/><text class="l c" x="825" y="463">30</text><text class="l c" x="822" y="477">3</text>
<use href="#b" x="796" y="563"/><text class="l c" x="796" y="563">30</text><text class="l c" x="794" y="577">2</text>
<use href="#b" x="771" y="630"/><text class="l c" x="771" y="630">30</text><text class="l c" x="768" y="644">1</text>
<use href="#b" x="1152" y="370"/><text class="l c" x="1152" y="370">40</text><text class="l c" x="1149" y="384">1</text>
<use href="#b" x="1248" y="120"/><text class="l c" x="1248" y="120">40</text><text class="l c" x="1245" y="135">5</text>
<use href="#b" x="1335" y="452"/><text class="l c" x="1335" y="452">40</text><text class="l c" x="1333" y="466">9</text>
<use href="#b" x="1381" y="354"/><text class="l c" x="1381" y="354">41</text><text class="l c" x="1379" y="368">0</text>
<use href="#b" x="1256" y="377"/><text class="l c" x="1256" y="377">40</text><text class="l c" x="1254" y="390">6</text>
<use href="#b" x="1424" y="409"/><text class="l c" x="1424" y="409">41</text><text class="l c" x="1422" y="423">1</text>
<use href="#b" x="1152" y="625"/><text class="l c" x="1152" y="625">40</text><text class="l c" x="1149" y="640">2</text>
<use href="#b" x="1152" y="677"/><text class="l c" x="1152" y="677">40</text><text class="l c" x="1149" y="692">3</text>
<use href="#b" x="1256" y="625"/><text class="l c" x="1256" y="625">40</text><text class="l c" x="1254" y="640">7</text>
<use href="#b" x="1256" y="674"/><text class="l c" x="1256" y="674">40</text><text class="l c" x="1253" y="687">8</text>
<use href="#b" x="1428" y="735"/><text class="l c" x="1428" y="735">41</text><text class="l c" x="1426" y="749">3</text>
<use href="#b" x="1364" y="907"/><text class="l c" x="1364" y="907">41</text><text class="l c" x="1361" y="921">8</text>
<use href="#b" x="1466" y="559"/><text class="l c" x="1466" y="559">41</text><text class="l c" x="1463" y="573">5</text>
<use href="#b" x="1567" y="828"/><text class="l c" x="1567" y="828">41</text><text class="l c" x="1565" y="841">6</text>
<use href="#b" x="1531" y="903"/><text class="l c" x="1531" y="903">41</text><text class="l c" x="1529" y="916">7</text>
<use href="#b" x="1364" y="963"/><text class="l c" x="1364" y="963">41</text>
<use href="#b" x="1494" y="982"/><text class="l c" x="1494" y="982">42</text><text class="l c" x="1492" y="996">0</text>
<use href="#b" x="1451" y="1072"/><text class="l c" x="1451" y="1072">42</text><text class="l c" x="1449" y="1085">1</text>
<use href="#b" x="1466" y="234"/><text class="l c" x="1466" y="234">41</text>
<use href="#b" x="1511" y="172"/><text class="l c" x="1511" y="172">42</text><text class="l c" x="1509" y="185">2</text>
<use href="#b" x="1546" y="131"/><text class="l c" x="1546" y="131">42</text><text class="l c" x="1543" y="144">3</text>
<use href="#b" x="1681" y="215"/><text class="l c" x="1681" y="215">42</text><text class="l c" x="1679" y="229">5</text>
<use href="#b" x="1638" y="952"/><text class="l c" x="1638" y="952">42</text><text class="l c" x="1636" y="965">4</text>
<use href="#b" x="1638" y="1004"/><text class="l c" x="1638" y="1004">50</text>
<use href="#b" x="1720" y="521"/><text class="l c" x="1720" y="521">50</text><text class="l c" x="1717" y="535">8</text>
<use href="#b" x="1720" y="847"/><text class="l c" x="1720" y="847">50</text>
<use href="#b" x="1720" y="885"/><text class="l c" x="1720" y="885">51</text>
<use href="#b" x="1758" y="828"/><text class="l c" x="1758" y="828">51</text><text class="l c" x="1756" y="842">0</text>
<use href="#b" x="1759" y="988"/><text class="l c" x="1759" y="988">50</text><text class="l c" x="1756" y="1001">3</text>
<use href="#b" x="1884" y="754"/><text class="l c" x="1884" y="754">50</text><text class="l c" x="1881" y="768">6</text>
<text class="l c" x="1854" y="617">51</text><text class="l c" x="1852" y="631">2</text>
<use href="#b" x="1981" y="683"/><text class="l c" x="1981" y="683">51</text><text class="l c" x="1979" y="697">3</text>
<use href="#b" x="1994" y="811"/><text class="l c" x="1994" y="811">50</text><text class="l c" x="1991" y="824">7</text>
<use href="#b" x="2006" y="532"/><text class="l c" x="2006" y="532">60</text><text class="l c" x="2003" y="545">1</text>
<text class="l c" x="2076" y="594">60</text><text class="l c" x="2074" y="608">2</text>
<use href="#b" x="2109" y="612"/><text class="l c" x="2109" y="612">60</text><text class="l c" x="2106" y="625">3</text>
<use href="#b" x="2170" y="611"/><text class="l c" x="2170" y="611">60</text><text class="l c" x="2167" y="624">5</text>
<use href="#b" x="2245" y="573"/><text class="l c" x="2245" y="573">60</text><text class="l c" x="2242" y="587">7</text>
<use href="#b" x="2147" y="1024"/><text class="l c" x="2147" y="1024">60</text><text class="l c" x="2145" y="1037">4</text>
<text class="l c" x="2199" y="1030">606</text><text class="l c" x="2287" y="1030">608</text>
</g>
<g id="overlay">
<rect x="0" y="684" width="1079" height="282" rx="3" fill="#d9d9d9"/>
<text class="big" x="745" y="719">PMN based on Project use cases</text>
<text class="big" x="967" y="801">S &amp; CS/SE Sub-Group &amp; PMO =&gt; Domains</text>
<text class="big" x="856" y="881">alidation V.1 at Düsseldorf bSI Summit</text>
</g>
</svg>
